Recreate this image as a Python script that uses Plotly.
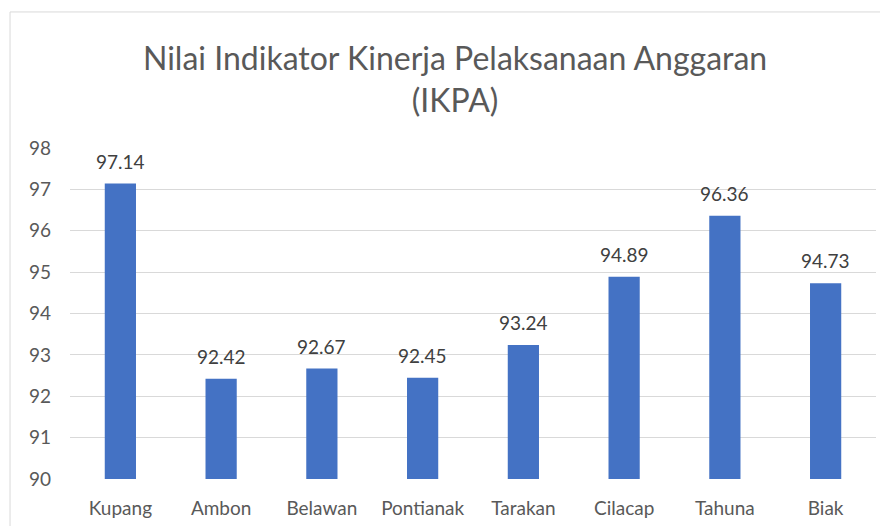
import plotly.graph_objects as go

categories = ["Kupang", "Ambon", "Belawan", "Pontianak", "Tarakan", "Cilacap", "Tahuna", "Biak"]
values = [97.14, 92.42, 92.67, 92.45, 93.24, 94.89, 96.36, 94.73]
y_ticks = [90, 91, 92, 93, 94, 95, 96, 97, 98]
title_text = "Nilai Indikator Kinerja Pelaksanaan Anggaran<br>(IKPA)"

FONT = "Lato, 'Open Sans', sans-serif"

fig = go.Figure(go.Bar(
    x=categories,
    y=values,
    marker=dict(color="#4472C4", line=dict(width=0)),
    width=0.31,
    cliponaxis=False,
))

label_annotations = [
    dict(x=c, y=v, xref="x", yref="y", text=f"{v:.2f}", showarrow=False,
         xanchor="center", yanchor="bottom", yshift=9,
         font=dict(size=19, color="#404040", family=FONT))
    for c, v in zip(categories, values)
]

fig.update_layout(
    width=888, height=526,
    margin=dict(l=62, r=20, t=140, b=55),
    paper_bgcolor="white", plot_bgcolor="white",
    showlegend=False,
    xaxis=dict(showgrid=False, showline=False, ticks="", ticklabelstandoff=16,
               tickfont=dict(size=19, color="#595959", family=FONT)),
    yaxis=dict(range=[90, 98], tickvals=y_ticks, showgrid=True, gridcolor="#d9d9d9",
               gridwidth=1, zeroline=False, showline=False, ticks="",
               tickfont=dict(size=19, color="#595959", family=FONT), ticklabelstandoff=18),
    annotations=label_annotations + [
        dict(text=title_text, xref="paper", yref="paper", x=0.478, y=1.337,
             xanchor="center", yanchor="top", showarrow=False, align="center",
             font=dict(size=32, color="#595959", family=FONT))],
    shapes=[dict(type="rect", xref="paper", yref="paper", x0=-0.0744, x1=1.2, y0=-0.4, y1=1.411,
                 line=dict(color="#d9d9d9", width=1), layer="below")],
)

fig.write_html("out.html")
